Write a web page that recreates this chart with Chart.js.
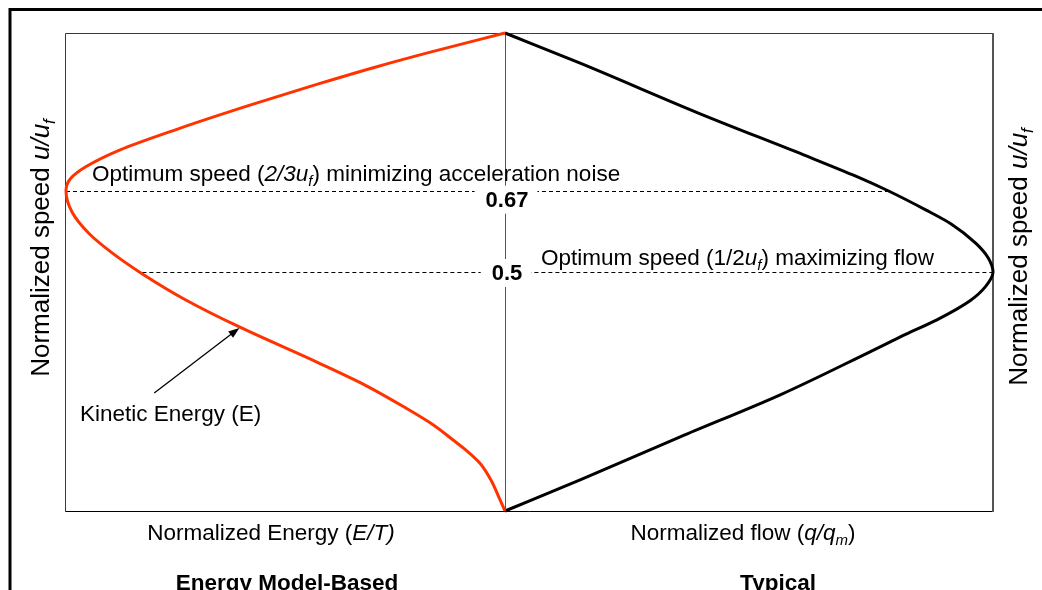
<!DOCTYPE html>
<html>
<head>
<meta charset="utf-8">
<script src="https://cdn.jsdelivr.net/npm/chart.js@4/dist/chart.umd.min.js"></script>
<style>
  html, body { margin: 0; padding: 0; background: #fff; }
  #wrap { width: 1042px; height: 590px; position: relative; overflow: hidden; }
  canvas { display: block; }
</style>
</head>
<body>
<div id="wrap"><canvas id="chart" width="1042" height="590"></canvas></div>
<script>
// Normalized speed u/uf (vertical) against normalized energy E/T (left panel)
const energySpeed  = [0, 0.029, 0.065, 0.100, 0.126, 0.149, 0.180, 0.215, 0.264, 0.310, 0.385, 0.441, 0.496, 0.540, 0.580, 0.625, 0.67, 0.695, 0.72, 0.755, 0.799, 0.849, 0.893, 0.929, 0.960, 1.0];
const energyValues = [0, 0.014, 0.032, 0.057, 0.087, 0.119, 0.163, 0.225, 0.320, 0.425, 0.605, 0.726, 0.826, 0.895, 0.947, 0.986, 1.0, 0.990, 0.955, 0.878, 0.746, 0.581, 0.427, 0.294, 0.170, 0];

// Normalized speed u/uf against normalized flow q/qm (right panel)
const flowSpeed  = [0, 0.065, 0.155, 0.243, 0.333, 0.37, 0.40, 0.44, 0.47, 0.5, 0.53, 0.56, 0.60, 0.63, 0.67, 0.70, 0.745, 0.831, 0.937, 1.0];
const flowValues = [0, 0.154, 0.359, 0.564, 0.748, 0.822, 0.885, 0.953, 0.985, 1.0, 0.99, 0.965, 0.915, 0.862, 0.785, 0.72, 0.612, 0.400, 0.154, 0];

// Optimum-speed guide lines
const guideSpeeds    = [0.67, 0.5];
const guideLabels    = ['0.67', '0.5'];
const guideEnergyEnd = [1.0, 0.826];
const guideFlowEnd   = [0.785, 1.0];

// callout arrow: tail and head in (E/T, u/uf)
const calloutTail = [0.799, 0.247];
const calloutHead = [0.605, 0.383];

const FONT = "'Liberation Sans', Arial, Helvetica, sans-serif";
const RED = '#ff3300';
const TXT = 22.5;

// share of the plot width taken by the energy panel
const SPLIT = 439 / 927;

function toPts(xs, ys) { return xs.map((v, i) => ({ x: v, y: ys[i] })); }

function fontFor(p, size) {
  const s = p.sub ? Math.round(size * 0.65) : size;
  return (p.i ? 'italic ' : '') + (p.b ? 'bold ' : '') + s + 'px ' + FONT;
}
function richWidth(ctx, parts, size) {
  let w = 0;
  for (const p of parts) {
    ctx.font = fontFor(p, size);
    w += ctx.measureText(p.t).width;
  }
  return w;
}
// draws a run of text pieces (plain / italic / bold / subscript)
function drawRich(ctx, parts, x, y, size, align) {
  const w = richWidth(ctx, parts, size);
  let cx = align === 'center' ? x - w / 2 : x;
  ctx.textBaseline = 'alphabetic';
  ctx.textAlign = 'left';
  for (const p of parts) {
    ctx.font = fontFor(p, size);
    ctx.fillText(p.t, cx, y + (p.sub ? size * 0.22 : 0));
    cx += ctx.measureText(p.t).width;
  }
}

const decorations = {
  id: 'decorations',
  beforeDraw(chart) {
    const { ctx, width, height } = chart;
    ctx.save();
    ctx.fillStyle = '#fff';
    ctx.fillRect(0, 0, width, height);
    // outer frame (top and left)
    ctx.strokeStyle = '#000';
    ctx.lineWidth = 3;
    ctx.beginPath();
    ctx.moveTo(10, height + 5);
    ctx.lineTo(10, 9.5);
    ctx.lineTo(width + 5, 9.5);
    ctx.stroke();
    ctx.restore();
  },
  beforeDatasetsDraw(chart) {
    const { ctx, chartArea: a, scales } = chart;
    const y = scales.y, xE = scales.xE, xQ = scales.xQ;
    ctx.save();
    // plot box
    ctx.strokeStyle = '#3a3a3a';
    ctx.lineWidth = 1;
    ctx.beginPath();
    ctx.moveTo(a.left - 0.5, a.bottom + 0.5);
    ctx.lineTo(a.left - 0.5, a.top + 0.5);
    ctx.lineTo(a.right, a.top + 0.5);
    ctx.stroke();
    ctx.strokeStyle = '#000';
    ctx.beginPath();
    ctx.moveTo(a.left - 0.5, a.bottom + 0.5);
    ctx.lineTo(a.right, a.bottom + 0.5);
    ctx.stroke();
    ctx.strokeStyle = '#555';
    ctx.lineWidth = 2;
    ctx.beginPath();
    ctx.moveTo(a.right, a.top);
    ctx.lineTo(a.right, a.bottom + 1);
    ctx.stroke();
    // centre divider
    const cx = Math.round(xQ.getPixelForValue(0)) + 0.5;
    ctx.strokeStyle = '#555';
    ctx.lineWidth = 1;
    ctx.beginPath();
    ctx.moveTo(cx, a.top);
    ctx.lineTo(cx, a.bottom);
    ctx.stroke();
    // dashed guides
    ctx.strokeStyle = '#000';
    ctx.setLineDash([4, 3]);
    guideSpeeds.forEach((s, i) => {
      const py = Math.round(y.getPixelForValue(s)) + 0.5;
      ctx.beginPath();
      ctx.moveTo(xE.getPixelForValue(guideEnergyEnd[i]), py);
      ctx.lineTo(xQ.getPixelForValue(guideFlowEnd[i]), py);
      ctx.stroke();
    });
    ctx.restore();
  },
  afterDatasetsDraw(chart) {
    const { ctx, scales } = chart;
    const y = scales.y, xE = scales.xE, xQ = scales.xQ;
    const cx = xQ.getPixelForValue(0);
    const g0 = y.getPixelForValue(guideSpeeds[0]);
    const g1 = y.getPixelForValue(guideSpeeds[1]);
    ctx.save();

    // value labels on the guides
    const offsets = [9, 1];
    guideSpeeds.forEach((s, i) => {
      const py = y.getPixelForValue(s) + offsets[i];
      ctx.font = 'bold 22px ' + FONT;
      const w = ctx.measureText(guideLabels[i]).width;
      ctx.fillStyle = '#fff';
      ctx.fillRect(cx - w / 2 - 9, py - 14, w + 20, 28);
      ctx.fillStyle = '#000';
      ctx.textAlign = 'center';
      ctx.textBaseline = 'middle';
      ctx.fillText(guideLabels[i], cx + 2, py + 1);
    });

    // guide annotations
    ctx.fillStyle = '#000';
    drawRich(ctx, [
      { t: 'Optimum speed (' }, { t: '2/3u', i: true }, { t: 'f', i: true, sub: true },
      { t: ') minimizing acceleration noise' }
    ], 92, g0 - 10, TXT, 'left');
    drawRich(ctx, [
      { t: 'Optimum speed (1/2' }, { t: 'u', i: true }, { t: 'f', i: true, sub: true },
      { t: ') maximizing flow' }
    ], 541, g1 - 7, TXT, 'left');

    // curve callout
    drawRich(ctx, [{ t: 'Kinetic Energy (E)' }], 80, 421, TXT, 'left');
    const tx = xE.getPixelForValue(calloutTail[0]), ty = y.getPixelForValue(calloutTail[1]);
    const hx = xE.getPixelForValue(calloutHead[0]), hy = y.getPixelForValue(calloutHead[1]);
    const ang = Math.atan2(hy - ty, hx - tx);
    const c = Math.cos(ang), s = Math.sin(ang);
    ctx.strokeStyle = '#000';
    ctx.lineWidth = 1.3;
    ctx.beginPath();
    ctx.moveTo(tx, ty);
    ctx.lineTo(hx - 8 * c, hy - 8 * s);
    ctx.stroke();
    ctx.beginPath();
    ctx.moveTo(hx, hy);
    ctx.lineTo(hx - 11 * c + 4 * s, hy - 11 * s - 4 * c);
    ctx.lineTo(hx - 11 * c - 4 * s, hy - 11 * s + 4 * c);
    ctx.closePath();
    ctx.fill();

    // titles below the panels
    drawRich(ctx, [{ t: 'Normalized Energy (' }, { t: 'E/T)', i: true }], 271, 540, TXT, 'center');
    drawRich(ctx, [{ t: 'Normalized flow (' }, { t: 'q/q', i: true }, { t: 'm', i: true, sub: true }, { t: ')' }], 743, 540, TXT, 'center');
    drawRich(ctx, [{ t: 'Energy Model-Based', b: true }], 287, 590, TXT, 'center');
    drawRich(ctx, [{ t: 'Typical', b: true }], 778, 590, TXT, 'center');

    // vertical speed titles
    const speedTitle = [{ t: 'Normalized speed ' }, { t: 'u/u', i: true }, { t: 'f', i: true, sub: true }];
    ctx.save();
    ctx.translate(49, 248);
    ctx.rotate(-Math.PI / 2);
    drawRich(ctx, speedTitle, 0, 0, 26, 'center');
    ctx.restore();
    ctx.save();
    ctx.translate(1027, 257);
    ctx.rotate(-Math.PI / 2);
    drawRich(ctx, speedTitle, 0, 0, 26, 'center');
    ctx.restore();

    ctx.restore();
  }
};

new Chart(document.getElementById('chart'), {
  type: 'line',
  data: {
    datasets: [
      {
        label: 'Kinetic Energy (E)',
        data: toPts(energyValues, energySpeed),
        xAxisID: 'xE',
        yAxisID: 'y',
        borderColor: RED,
        borderWidth: 3,
        pointRadius: 0,
        cubicInterpolationMode: 'monotone',
        indexAxis: 'y',
        clip: 6,
        fill: false
      },
      {
        label: 'Flow',
        data: toPts(flowValues, flowSpeed),
        xAxisID: 'xQ',
        yAxisID: 'y',
        borderColor: '#000',
        borderWidth: 3,
        pointRadius: 0,
        cubicInterpolationMode: 'monotone',
        indexAxis: 'y',
        clip: 6,
        fill: false
      }
    ]
  },
  options: {
    responsive: false,
    animation: false,
    devicePixelRatio: 1,
    indexAxis: 'y',
    layout: { padding: { left: 66, top: 33, right: 49, bottom: 79 } },
    plugins: { legend: { display: false }, tooltip: { enabled: false } },
    events: [],
    scales: {
      y: { type: 'linear', position: 'left', min: 0, max: 1, display: false },
      xE: { type: 'linear', axis: 'x', position: 'bottom', reverse: true, min: 1 - 1 / SPLIT, max: 1, display: false },
      xQ: { type: 'linear', axis: 'x', position: 'top', min: -SPLIT / (1 - SPLIT), max: 1, display: false }
    }
  },
  plugins: [decorations]
});
</script>
</body>
</html>
